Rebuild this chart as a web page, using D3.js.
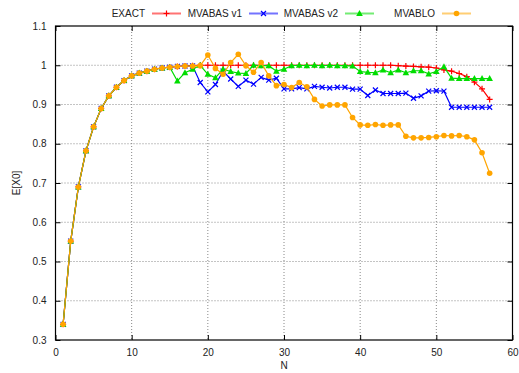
<!DOCTYPE html>
<html><head><meta charset="utf-8">
<script src="https://cdn.jsdelivr.net/npm/d3@7"></script>
<style>body{margin:0;background:#fff}svg{display:block}text{font-family:"Liberation Sans",Arial,sans-serif;font-size:10px;fill:#222}</style>
</head><body><svg id="c" width="519" height="373"></svg>
<script>
const N = d3.range(1, 58);
const exact = [0.340,0.552,0.690,0.782,0.843,0.890,0.922,0.944,0.961,0.973,0.980,0.985,0.990,0.993,0.995,
  0.997,0.998,0.999,1,1,1,1,1,1,1,1,1,1,1,1,1,1,1,1,1,1,1,1,1,1,1,1,1,1,
  0.999,0.998,0.997,0.996,0.995,0.993,0.988,0.985,0.979,0.971,0.957,0.940,0.913];
const mvabas1 = [0.340,0.552,0.690,0.782,0.843,0.890,0.922,0.944,0.961,0.973,0.980,0.985,0.990,0.993,0.995,
  0.997,0.998,0.998,0.956,0.932,0.951,0.985,0.965,0.946,0.962,0.952,0.969,0.962,0.967,
  0.940,0.940,0.943,0.940,0.946,0.944,0.942,0.944,0.944,0.939,0.939,
  0.923,0.937,0.928,0.928,0.928,0.929,0.916,0.922,0.934,0.935,0.934,
  0.893,0.893,0.893,0.893,0.893,0.893];
const mvabas2 = [0.340,0.552,0.690,0.782,0.843,0.890,0.922,0.944,0.961,0.973,0.980,0.985,0.990,0.993,0.995,
  0.960,0.981,0.990,1.000,0.977,0.968,0.990,0.984,0.980,0.979,1.000,0.999,0.999,0.985,
  0.990,0.999,1.000,0.999,1.000,0.999,1.000,0.999,0.999,0.998,0.984,
  0.982,0.981,0.988,0.981,0.988,0.981,0.986,0.986,0.978,0.984,0.996,
  0.967,0.966,0.966,0.966,0.966,0.966];
const mvablo = [0.340,0.552,0.690,0.782,0.843,0.890,0.922,0.944,0.961,0.973,0.980,0.985,0.990,0.993,0.995,
  0.997,0.998,0.998,0.999,1.026,0.992,0.977,1.007,1.028,0.999,0.982,1.007,0.973,0.948,
  0.951,0.943,0.956,0.945,0.913,0.896,0.899,0.899,0.899,0.867,0.848,
  0.847,0.849,0.847,0.848,0.848,0.819,0.815,0.815,0.816,0.818,0.821,
  0.820,0.821,0.818,0.810,0.777,0.725];
const xTicks = [0,10,20,30,40,50,60];
const yTicks = [0.3,0.4,0.5,0.6,0.7,0.8,0.9,1.0,1.1];
const names = ["EXACT","MVABAS v1","MVABAS v2","MVABLO"];
const colors = ["#ff0000","#0000ff","#00dd00","#ffa500"];
const markers = ["plus","cross","tri","circ"];
const series = [exact, mvabas1, mvabas2, mvablo];

const svg = d3.select("#c");
const L=55.5, R=512.5, T=26, B=340;
const x = d3.scaleLinear().domain([0,60]).range([L,R]);
const y = d3.scaleLinear().domain([0.3,1.1]).range([B,T]);

// grid
const g = svg.append("g");
xTicks.slice(1,-1).forEach(t=>g.append("line").attr("x1",x(t)).attr("x2",x(t)).attr("y1",T).attr("y2",B).attr("stroke","#888").attr("stroke-dasharray","1,2").attr("stroke-width",1));
yTicks.slice(1,-1).forEach(t=>g.append("line").attr("y1",y(t)).attr("y2",y(t)).attr("x1",L).attr("x2",R).attr("stroke","#888").attr("stroke-dasharray","1,2").attr("stroke-width",1));

// axes
const fmt = d=>d3.format("~g")(+d.toFixed(2));
svg.append("g").attr("transform",`translate(0,${B})`).call(d3.axisBottom(x).tickValues(xTicks).tickSizeInner(-5).tickSizeOuter(0).tickPadding(9))
  .call(a=>{a.select(".domain").remove();a.selectAll("text").attr("fill","#222").style("font-size","10px")});
svg.append("g").attr("transform",`translate(0,${T})`).call(d3.axisTop(x).tickValues(xTicks).tickSizeInner(-5).tickSizeOuter(0).tickFormat(""))
  .call(a=>a.select(".domain").remove());
svg.append("g").attr("transform",`translate(${L},0)`).call(d3.axisLeft(y).tickValues(yTicks).tickFormat(fmt).tickSizeInner(-5).tickSizeOuter(0).tickPadding(9))
  .call(a=>{a.select(".domain").remove();a.selectAll("text").attr("fill","#222").style("font-size","10px")});
svg.append("g").attr("transform",`translate(${R},0)`).call(d3.axisRight(y).tickValues(yTicks).tickSizeInner(-5).tickSizeOuter(0).tickFormat(""))
  .call(a=>a.select(".domain").remove());
svg.append("rect").attr("x",L).attr("y",T).attr("width",R-L).attr("height",B-T).attr("fill","none").attr("stroke","#000").attr("stroke-width",1.2);

svg.append("text").attr("x",x(30)).attr("y",369).attr("text-anchor","middle").text("N");
svg.append("text").attr("transform",`translate(20,${(T+B)/2}) rotate(-90)`).attr("text-anchor","middle").text("E[X0]");

function marker(sel, type, cx, cy, col){
  if(type==="plus"){
    sel.append("path").attr("d",`M${cx-3},${cy}H${cx+3}M${cx},${cy-3}V${cy+3}`).attr("stroke",col).attr("stroke-width",1.2);
  } else if(type==="cross"){
    sel.append("path").attr("d",`M${cx-2.5},${cy-2.5}L${cx+2.5},${cy+2.5}M${cx-2.5},${cy+2.5}L${cx+2.5},${cy-2.5}`).attr("stroke",col).attr("stroke-width",1.2);
  } else if(type==="tri"){
    sel.append("path").attr("d",`M${cx},${cy-3.5}L${cx+3.3},${cy+2.5}L${cx-3.3},${cy+2.5}Z`).attr("fill",col);
  } else {
    sel.append("circle").attr("cx",cx).attr("cy",cy).attr("r",2.8).attr("fill",col);
  }
}

const line = d3.line().x((d,i)=>x(N[i])).y(d=>y(d));
series.forEach((s,k)=>{
  const sg = svg.append("g");
  sg.append("path").attr("d",line(s)).attr("fill","none").attr("stroke",colors[k]).attr("stroke-width",1.2);
  s.forEach((v,i)=>marker(sg, markers[k], x(N[i]), y(v), colors[k]));
});

// legend
const textEnds=[145,242,338,435];
names.forEach((nm,k)=>{
  const lg = svg.append("g");
  lg.append("text").attr("x",textEnds[k]).attr("y",17).attr("text-anchor","end").text(nm);
  const x0=textEnds[k]+7, x1=x0+29, cy=13.5;
  lg.append("line").attr("x1",x0).attr("x2",x1).attr("y1",cy).attr("y2",cy).attr("stroke",colors[k]).attr("stroke-width",2).attr("stroke-opacity",0.55);
  marker(lg, markers[k], (x0+x1)/2, cy, colors[k]);
});
</script></body></html>
